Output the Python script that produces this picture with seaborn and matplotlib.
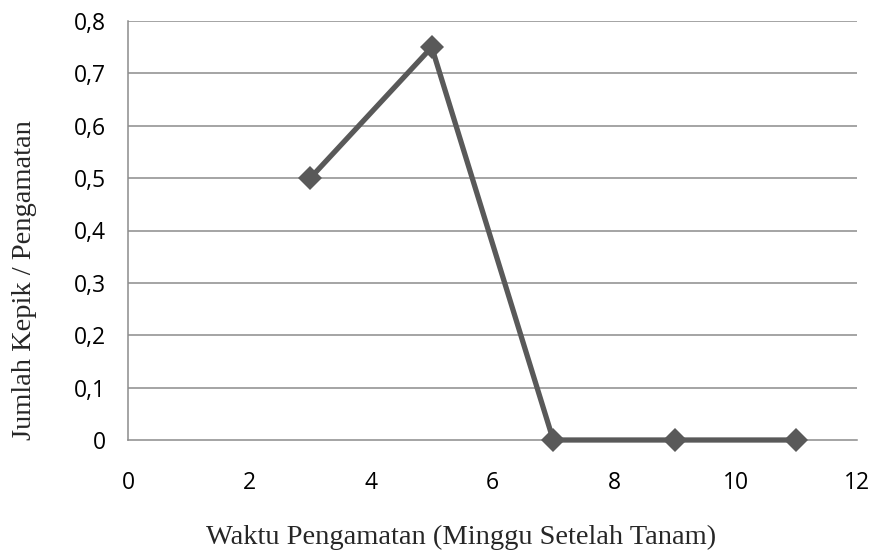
import matplotlib
matplotlib.use("Agg")
import matplotlib.pyplot as plt
import seaborn as sns
import pandas as pd
from matplotlib.ticker import FuncFormatter

weeks = [3, 5, 7, 9, 11]
counts = [0.5, 0.75, 0.0, 0.0, 0.0]
x_ticks = [0, 2, 4, 6, 8, 10, 12]
y_ticks = [0, 0.1, 0.2, 0.3, 0.4, 0.5, 0.6, 0.7, 0.8]

sns.set_theme(style="white")
plt.rcParams['font.family'] = ['Open Sans', 'DejaVu Sans']

df = pd.DataFrame({"x": weeks, "y": counts})

W, H = 877, 550
fig = plt.figure(figsize=(W / 100, H / 100), dpi=100)
ax = fig.add_axes([128 / W, 1 - 440 / H, (857 - 128) / W, (440 - 21) / H])

for yv in y_ticks[1:]:
    ax.axhline(yv, color="#8c8c8c", lw=1.1, zorder=0)

sns.lineplot(data=df, x="x", y="y", ax=ax, color="#595959", lw=3.8,
             marker="D", markersize=12, markeredgewidth=0, zorder=3,
             clip_on=False)

ax.set_xlim(0, 12)
ax.set_ylim(0, 0.8)
ax.set_xticks(x_ticks)
ax.set_yticks(y_ticks)
ax.xaxis.set_major_formatter(FuncFormatter(lambda v, p: f"{v:g}"))
ax.yaxis.set_major_formatter(FuncFormatter(lambda v, p: f"{v:g}".replace(".", ",")))
ax.tick_params(axis="both", length=0, labelsize=16.5, colors="black")
ax.tick_params(axis="x", pad=22)
ax.tick_params(axis="y", pad=16)

for s in ["top", "right"]:
    ax.spines[s].set_visible(False)
for s in ["left", "bottom"]:
    ax.spines[s].set_color("#8c8c8c")
    ax.spines[s].set_linewidth(1.1)
    ax.spines[s].set_zorder(1)

ax.set_xlabel("")
ax.set_ylabel("")
fig.text(461 / W, 1 - 537 / H, "Waktu Pengamatan (Minggu Setelah Tanam)",
         family="Liberation Serif", fontsize=20.5, ha="center", va="center")
fig.text(25 / W, 1 - 280 / H, "Jumlah Kepik / Pengamatan",
         family="Liberation Serif", fontsize=20.5, ha="center", va="center",
         rotation=90)

fig.savefig("out.png", dpi=100)
